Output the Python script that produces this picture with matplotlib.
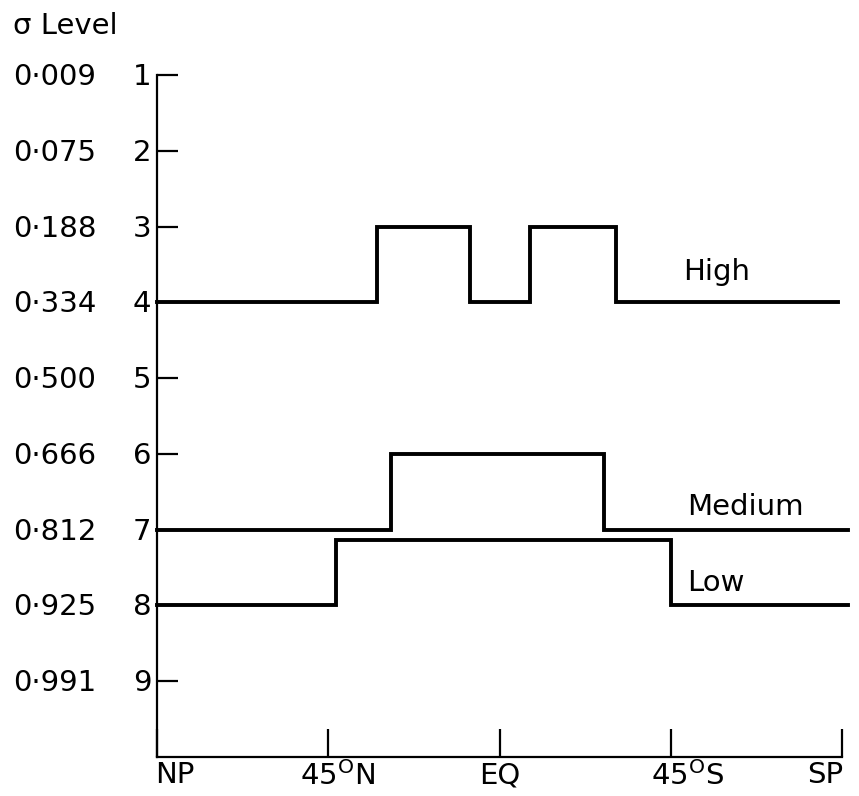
import matplotlib
matplotlib.use("Agg")
import matplotlib.pyplot as plt
import matplotlib.transforms as mtransforms

plt.rcParams['font.family'] = ['DejaVu Sans']
plt.rcParams['mathtext.fontset'] = 'dejavusans'
plt.rcParams['mathtext.default'] = 'regular'

# Data
levels = [1, 2, 3, 4, 5, 6, 7, 8, 9]
sigma_labels = ["0·009", "0·075", "0·188", "0·334", "0·500", "0·666", "0·812", "0·925", "0·991"]
x_ticks = [90, 45, 0, -45, -90]
x_ticklabels = ["NP", "45$^{O}$N", "EQ", "45$^{O}$S", "SP"]

high_edges = [90, 32.3, 7.8, -8.0, -30.5, -89.0]
high_levels = [4, 3, 4, 3, 4]
medium_edges = [90, 28.5, -27.4, -91.5]
medium_levels = [7, 6, 7]
low_edges = [90, 43.0, -45.0, -91.5]
low_levels = [8, 7.13, 8]

FS = 21
W, H = 859, 796
fig = plt.figure(figsize=(W / 100, H / 100), dpi=100)
ax = fig.add_axes([157 / W, 1 - 757 / H, 685 / W, (757 - 75) / H])
ax.set_xlim(90, -90)
ax.set_ylim(10, 1)

for edges, lev in [(high_edges, high_levels), (medium_edges, medium_levels), (low_edges, low_levels)]:
    ax.step(edges, lev + [lev[-1]], where='post', color='black', lw=2.8,
            solid_joinstyle='miter', clip_on=False)

for s in ['top', 'right']:
    ax.spines[s].set_visible(False)
for s in ['left', 'bottom']:
    ax.spines[s].set_linewidth(1.6)

def px(dx, dy=0):
    return mtransforms.ScaledTranslation(dx / 100, dy / 100, fig.dpi_scale_trans)

ax.set_yticks(levels)
ax.set_yticklabels([str(l) for l in levels], fontsize=FS)
ax.tick_params(axis='y', direction='in', length=15, width=1.6, pad=4)
for t in ax.get_yticklabels():
    t.set_va('baseline')
    t.set_transform(t.get_transform() + px(0, -10))

ax.set_xticks(x_ticks)
ax.set_xticklabels(x_ticklabels, fontsize=FS)
ax.tick_params(axis='x', direction='in', length=20, width=1.6, pad=3)

xl = ax.get_xticklabels()
xl[0].set_ha('left')
xl[0].set_transform(xl[0].get_transform() + px(-2))
xl[-1].set_ha('right')
xl[-1].set_transform(xl[-1].get_transform() + px(1))
xl[1].set_transform(xl[1].get_transform() + px(9))
xl[3].set_transform(xl[3].get_transform() + px(17))

# sigma column
trans = mtransforms.blended_transform_factory(fig.transFigure, ax.transData) + px(0, -10)
for lv, lab in zip(levels, sigma_labels):
    fig.text(13 / W, lv, lab, transform=trans, ha='left', va='baseline', fontsize=FS)

fig.text(13 / W, 1 - 34 / H, "σ Level", ha='left', va='baseline', fontsize=FS)

# series labels
ax.text(-48.2, 3.705, "High", ha='left', va='baseline', fontsize=FS)
ax.text(-49.3, 6.81, "Medium", ha='left', va='baseline', fontsize=FS)
ax.text(-49.3, 7.81, "Low", ha='left', va='baseline', fontsize=FS)

fig.savefig("out.png", dpi=100)
